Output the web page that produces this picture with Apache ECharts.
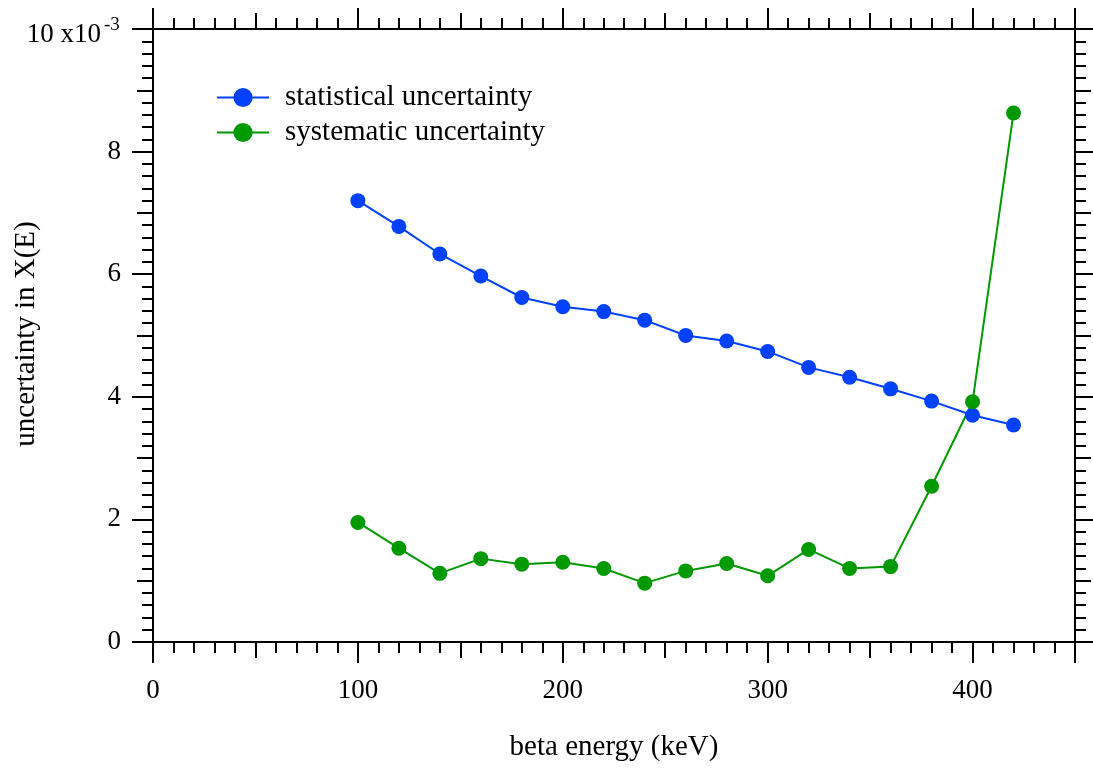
<!DOCTYPE html>
<html>
<head>
<meta charset="utf-8">
<script src="https://cdn.jsdelivr.net/npm/echarts@6/dist/echarts.min.js"></script>
<style>html,body{margin:0;padding:0;background:#fff;overflow:hidden;}#c{width:1093px;height:768px;}</style>
</head>
<body>
<div id="c"></div>
<script>
// beta energy (keV)
const energies = [100,120,140,160,180,200,220,240,260,280,300,320,340,360,380,400,420];
// uncertainty in X(E), units of 1e-3
const statistical = [7.20,6.78,6.33,5.97,5.62,5.47,5.39,5.25,5.00,4.91,4.74,4.48,4.32,4.13,3.93,3.70,3.54];
const systematic  = [1.95,1.53,1.12,1.36,1.27,1.30,1.20,0.96,1.16,1.28,1.08,1.51,1.20,1.23,2.54,3.92,8.63];
const seriesNames = ['statistical uncertainty','systematic uncertainty'];
const xTitle = 'beta energy (keV)';
const yTitle = 'uncertainty in X(E)';
const yTopLabel = '10 x10';
const yTopExp = '-3';

const FONT = '"Liberation Serif", "Times New Roman", serif';
const BLUE = '#0040ff';
const GREEN = '#009900';

const chart = echarts.init(document.getElementById('c'), null, {renderer:'canvas', width:1093, height:768});

function xAx(pos, interval, len, labels, minor) {
  return {
    type:'value', position: pos, min:0, max:450, interval: interval,
    axisLine:{show:true, onZero:false, lineStyle:{color:'#000', width:2}},
    axisTick:{show:true, length:len, lineStyle:{color:'#000', width:2}},
    minorTick: minor ? {show:true, splitNumber:10, length:11, lineStyle:{color:'#000', width:2}} : {show:false},
    axisLabel:{show:labels, margin:35, color:'#000', fontFamily:FONT, fontSize:27,
      formatter: function(v){ return v > 400 ? '' : String(v); }},
    splitLine:{show:false}, minorSplitLine:{show:false}
  };
}
function yAx(pos, interval, len, labels, minor) {
  return {
    type:'value', position: pos, min:0, max:10, interval: interval,
    axisLine:{show:true, onZero:false, lineStyle:{color:'#000', width:2}},
    axisTick:{show:true, length:len, lineStyle:{color:'#000', width:2}},
    minorTick: minor ? {show:true, splitNumber:10, length:11, lineStyle:{color:'#000', width:2}} : {show:false},
    axisLabel:{show:labels, margin:32, color:'#000', fontFamily:FONT, fontSize:27,
      formatter: function(v){ return v >= 10 ? '' : String(v); }
    },
    splitLine:{show:false}, minorSplitLine:{show:false}
  };
}

const xa0 = xAx('bottom', 100, 21, true, true);
xa0.name = xTitle; xa0.nameLocation = 'middle'; xa0.nameGap = 91;
xa0.nameTextStyle = {fontFamily:FONT, fontSize:29, color:'#000'};

const option = {
  backgroundColor:'#fff',
  animation:false,
  grid:{left:153, right:18, top:29, bottom:126, containLabel:false},
  legend:{
    show:true, left:211, top:78, orient:'vertical', itemWidth:52, itemHeight:24, itemGap:6,
    data: seriesNames,
    textStyle:{fontFamily:FONT, fontSize:29, color:'#000', padding:[0,0,0,11]}
  },
  xAxis:[ xa0, xAx('bottom', 50, 16, false, false), xAx('top', 100, 21, false, true), xAx('top', 50, 16, false, false) ],
  yAxis:[ yAx('left', 2, 21, true, true), yAx('left', 1, 16, false, false), yAx('right', 2, 21, false, true), yAx('right', 1, 16, false, false) ],
  graphic:[
    {type:'text', rotation: Math.PI/2, x: 26, y: 334,
     style:{text: yTitle, fontFamily:FONT, fontSize:29, fill:'#000', textAlign:'center', textVerticalAlign:'middle'}},
    {type:'text', x: 101, y: 35,
     style:{text: yTopLabel, fontFamily:FONT, fontSize:27, fill:'#000', textAlign:'right', textVerticalAlign:'middle'}},
    {type:'text', x: 104, y: 25,
     style:{text: yTopExp, fontFamily:FONT, fontSize:19, fill:'#000', textAlign:'left', textVerticalAlign:'middle'}}
  ],
  series:[
    {name:seriesNames[0], type:'line', xAxisIndex:0, yAxisIndex:0,
     data: energies.map((e,i)=>[e, statistical[i]]),
     symbol:'circle', symbolSize:15, lineStyle:{color:BLUE, width:2}, itemStyle:{color:BLUE}},
    {name:seriesNames[1], type:'line', xAxisIndex:0, yAxisIndex:0,
     data: energies.map((e,i)=>[e, systematic[i]]),
     symbol:'circle', symbolSize:15, lineStyle:{color:GREEN, width:2}, itemStyle:{color:GREEN}}
  ]
};
chart.setOption(option);
</script>
</body>
</html>
